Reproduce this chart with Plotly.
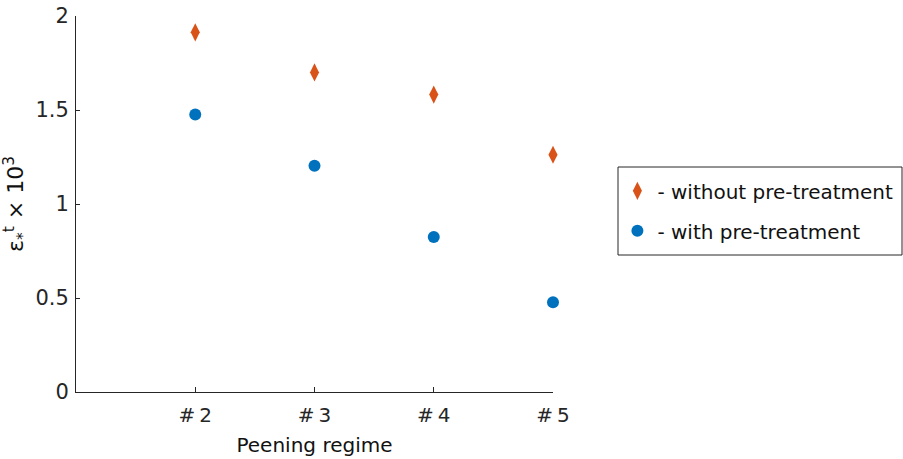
import plotly.graph_objects as go

regimes = [2, 3, 4, 5]
tick_labels = ["#\u20092", "#\u20093", "#\u20094", "#\u20095"]
without_pre = [1.913, 1.700, 1.582, 1.262]
with_pre = [1.476, 1.204, 0.825, 0.478]

FONT = "DejaVu Sans"
TXT = "#262626"

fig = go.Figure()
fig.add_trace(go.Scatter(
    x=regimes, y=without_pre, mode="markers", name="- without pre-treatment",
    legendgroup="a", cliponaxis=False,
    marker=dict(symbol="diamond-tall", color="#D95319", size=13, line=dict(width=0)),
))
fig.add_trace(go.Scatter(
    x=regimes, y=with_pre, mode="markers", name="- with pre-treatment",
    legendgroup="b", cliponaxis=False,
    marker=dict(symbol="circle", color="#0072BD", size=12, line=dict(width=0)),
))

fig.update_layout(
    width=903, height=459,
    margin=dict(l=76, r=350, t=16, b=67, autoexpand=False),
    paper_bgcolor="white", plot_bgcolor="white",
    font=dict(family=FONT, size=18, color=TXT),
    showlegend=True,
    legend=dict(
        x=1.135, y=0.587, xanchor="left", yanchor="top",
        borderwidth=0, bgcolor="rgba(0,0,0,0)",
        font=dict(family=FONT, size=20, color="#111111"),
        itemwidth=30, traceorder="grouped", tracegroupgap=11,
    ),
    shapes=[dict(
        type="rect", xref="paper", yref="paper",
        x0=(618 - 76) / 477, x1=(902 - 76) / 477,
        y0=(392 - 255) / 376, y1=(392 - 167) / 376,
        line=dict(color="#262626", width=1), fillcolor="rgba(0,0,0,0)",
    )],
)
fig.update_xaxes(
    range=[1, 5], tickvals=regimes, ticktext=tick_labels, automargin=False,
    showgrid=False, zeroline=False, showline=True, linecolor=TXT, linewidth=1,
    ticks="inside", ticklen=5, tickcolor=TXT, tickwidth=1,
    tickfont=dict(family=FONT, size=20, color=TXT),
    ticklabelstandoff=5,
    title=dict(text="Peening regime", font=dict(family=FONT, size=20, color="#111111"), standoff=11),
)
fig.update_yaxes(
    range=[0, 2], tickvals=[0, 0.5, 1, 1.5, 2], ticktext=["0", "0.5", "1", "1.5", "2"],
    automargin=False,
    showgrid=False, zeroline=False, showline=True, linecolor=TXT, linewidth=1,
    ticks="inside", ticklen=4, tickcolor=TXT, tickwidth=1,
    tickfont=dict(family=FONT, size=21, color=TXT),
    ticklabelstandoff=2,
    title=dict(text="ε<sub>*</sub><sup>t</sup> × 10<sup>3</sup>", font=dict(family=FONT, size=22, color="#111111"), standoff=10),
)

fig.write_html("out.html")
